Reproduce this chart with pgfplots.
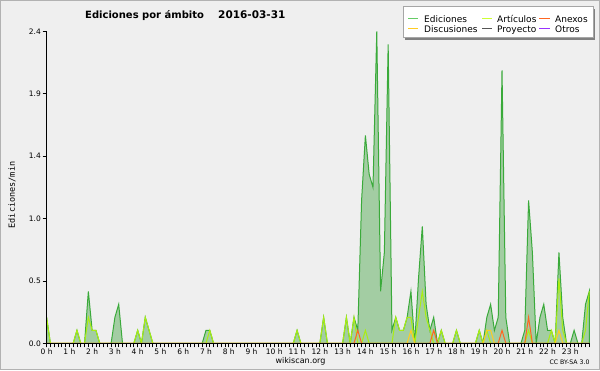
\documentclass[border=0pt]{standalone}
\usepackage{fontspec}
\setmainfont{DejaVu Sans}
\setmonofont{DejaVu Sans Mono}
\usepackage{pgfplots}
\usepackage{pgfplotstable}
\pgfplotsset{compat=1.18}
\definecolor{bgc}{HTML}{EFEFEF}
\definecolor{plotbg}{HTML}{EEF0F2}
\definecolor{edline}{HTML}{3AAA3A}
\definecolor{edfill}{HTML}{96C896}
\definecolor{edleg}{HTML}{66CC66}
\definecolor{art}{HTML}{AAEE11}
\definecolor{artleg}{HTML}{CCFF33}
\definecolor{anx}{HTML}{FF6622}
\definecolor{dis}{HTML}{FFCC22}
\definecolor{proy}{HTML}{555555}
\definecolor{otr}{HTML}{9933FF}
\definecolor{gridc}{HTML}{CCCCCC}
\pgfplotsset{
 layers/mylayers/.define layer set={axis background,axis grid,pre main,main,axis ticks,axis lines,axis tick labels,axis descriptions,axis foreground}{
 grid style={/pgfplots/on layer=axis grid},
 tick style={/pgfplots/on layer=axis ticks},
 axis line style={/pgfplots/on layer=axis lines},
 label style={/pgfplots/on layer=axis descriptions},
 legend style={/pgfplots/on layer=axis descriptions},
 title style={/pgfplots/on layer=axis descriptions},
 colorbar style={/pgfplots/on layer=axis descriptions},
 ticklabel style={/pgfplots/on layer=axis tick labels},
 axis background@ style={/pgfplots/on layer=axis background},
 3d box foreground style={/pgfplots/on layer=axis foreground},
 },
}
\pgfplotstableread{
k E A N D
0 0.2 0.2 0 0
1 0 0 0 0
2 0 0 0 0
3 0 0 0 0
4 0 0 0 0
5 0 0 0 0
6 0 0 0 0
7 0 0 0 0
8 0.1 0.1 0 0
9 0 0 0 0
10 0 0 0 0
11 0.4 0.2 0 0
12 0.1 0.1 0 0
13 0.1 0.1 0 0
14 0 0 0 0
15 0 0 0 0
16 0 0 0 0
17 0 0 0 0
18 0.2 0 0 0
19 0.3 0 0 0
20 0 0 0 0
21 0 0 0 0
22 0 0 0 0
23 0 0 0 0
24 0.1 0.1 0 0
25 0 0 0 0
26 0.2 0.2 0 0
27 0.1 0.1 0 0
28 0 0 0 0
29 0 0 0 0
30 0 0 0 0
31 0 0 0 0
32 0 0 0 0
33 0 0 0 0
34 0 0 0 0
35 0 0 0 0
36 0 0 0 0
37 0 0 0 0
38 0 0 0 0
39 0 0 0 0
40 0 0 0 0
41 0 0 0 0
42 0.1 0 0 0
43 0.1 0.1 0 0
44 0 0 0 0
45 0 0 0 0
46 0 0 0 0
47 0 0 0 0
48 0 0 0 0
49 0 0 0 0
50 0 0 0 0
51 0 0 0 0
52 0 0 0 0
53 0 0 0 0
54 0 0 0 0
55 0 0 0 0
56 0 0 0 0
57 0 0 0 0
58 0 0 0 0
59 0 0 0 0
60 0 0 0 0
61 0 0 0 0
62 0 0 0 0
63 0 0 0 0
64 0 0 0 0
65 0 0 0 0
66 0.1 0.1 0 0
67 0 0 0 0
68 0 0 0 0
69 0 0 0 0
70 0 0 0 0
71 0 0 0 0
72 0 0 0 0
73 0.2 0.2 0 0
74 0 0 0 0
75 0 0 0 0
76 0 0 0 0
77 0 0 0 0
78 0 0 0 0
79 0.2 0.2 0 0
80 0 0 0 0
81 0.2 0.2 0 0
82 0.1 0 0.1 0
83 1.1 0 0 0
84 1.6 0.1 0 0
85 1.3 0 0 0
86 1.2 0 0 0
87 2.4 0 0 0
88 0.4 0 0 0
89 0.7 0 0 0
90 2.3 0 0 0
91 0.1 0 0 0
92 0.2 0.2 0 0
93 0.1 0.1 0 0
94 0.1 0.1 0 0
95 0.2 0.2 0 0
96 0.4 0.2 0 0.1
97 0 0 0 0
98 0.5 0.2 0 0
99 0.9 0.4 0 0
100 0.3 0.2 0 0
101 0.1 0.1 0 0
102 0.2 0 0.1 0
103 0 0 0 0
104 0.1 0.1 0 0
105 0 0 0 0
106 0 0 0 0
107 0 0 0 0
108 0.1 0.1 0 0
109 0 0 0 0
110 0 0 0 0
111 0 0 0 0
112 0 0 0 0
113 0 0 0 0
114 0.1 0.1 0 0
115 0 0 0 0
116 0.2 0.1 0 0.1
117 0.3 0 0 0.1
118 0.1 0 0 0
119 0.2 0 0 0
120 2.1 0 0.1 0
121 0.2 0 0 0
122 0 0 0 0
123 0 0 0 0
124 0 0 0 0
125 0 0 0 0
126 0.1 0 0 0
127 1.1 0.1 0.2 0
128 0.7 0 0 0
129 0 0 0 0
130 0.2 0 0 0
131 0.3 0 0 0
132 0.1 0 0 0
133 0.1 0.1 0 0
134 0 0 0 0
135 0.7 0.5 0 0.1
136 0.2 0.1 0 0
137 0 0 0 0
138 0 0 0 0
139 0.1 0 0 0
140 0 0 0 0
141 0 0 0 0
142 0.3 0.1 0 0
143 0.4 0.4 0 0
}\datatable
\begin{document}
\begin{tikzpicture}[x=1pt,y=1pt]
\fill[bgc] (0,0) rectangle (600,370);
\draw[gray!60, line width=1pt] (0.5,0.5) rectangle (599.5,369.5);
\begin{axis}[
 set layers=mylayers,
 at={(46.6pt,26.7pt)}, anchor=south west,
 scale only axis, width=542.7pt, height=312pt,
 xmin=0, xmax=143, ymin=0, ymax=2.4,
 clip=false,
 axis x line=bottom, axis y line=left,
 axis line style={black, line width=0.9pt, -},
 axis background/.style={fill=plotbg},
 xtick={0,6,...,138},
 xticklabels={0 h,1 h,2 h,3 h,4 h,5 h,6 h,7 h,8 h,9 h,10 h,11 h,12 h,13 h,14 h,15 h,16 h,17 h,18 h,19 h,20 h,21 h,22 h,23 h},
 minor xtick={0,1,...,143},
 ytick={0,0.48,0.96,1.44,1.92,2.4},
 yticklabels={0.0,0.5,1.0,1.4,1.9,2.4},
 tick align=outside,
 major tick length=4pt, minor tick length=4pt,
 tick style={black, line width=0.8pt},
 every minor tick/.style={black, line width=0.8pt},
 ymajorgrids, grid style={gridc, line width=0.9pt},
 ticklabel style={font=\fontsize{7.5}{8}\selectfont},
 xticklabel style={inner sep=1pt},
 yticklabel style={inner sep=1.5pt},
]
\addplot[draw=edline, line width=1pt, fill=edfill, fill opacity=0.85] table[x=k, y=E] {\datatable} \closedcycle;
\addplot[draw=art, line width=1pt] table[x=k, y=A] {\datatable};
\addplot[draw=dis, line width=1pt] table[x=k, y=D] {\datatable};
\addplot[draw=anx, line width=1pt] table[x=k, y=N] {\datatable};
\end{axis}
% title and texts
\node[anchor=base west, font=\bfseries\fontsize{10}{12}\selectfont, inner sep=0] at (85,351) {Ediciones por ámbito};
\node[anchor=base west, font=\bfseries\fontsize{10.5}{12}\selectfont, inner sep=0] at (218,351) {2016-03-31};
\node[rotate=90, font=\ttfamily\fontsize{8.5}{10}\selectfont, inner sep=0] at (12,175) {Ediciones/min};
\node[font=\fontsize{8}{9}\selectfont, inner sep=0] at (300.5,9) {wikiscan.org};
\node[font=\fontsize{6.2}{7}\selectfont, inner sep=0] at (569.5,8) {CC BY-SA 3.0};
% legend
\fill[black!50] (405.3,330.3) rectangle (595.3,361.3);
\filldraw[fill=white, draw=gray!70, line width=0.8pt] (403.3,332.3) rectangle (593.3,363.3);
\begin{scope}[line width=1pt]
\draw[edleg] (408,351) -- (418,351);
\draw[artleg] (482,351) -- (492,351);
\draw[anx] (539,351) -- (550,351);
\draw[dis] (408,341) -- (418,341);
\draw[proy] (482,341) -- (492,341);
\draw[otr] (539,341) -- (550,341);
\end{scope}
\begin{scope}[every node/.style={anchor=base west, inner sep=0, font=\fontsize{9}{10}\selectfont}]
\node at (424,347) {Ediciones};
\node at (497,347) {Artículos};
\node at (555,347) {Anexos};
\node at (424,337) {Discusiones};
\node at (497,337) {Proyecto};
\node at (555,337) {Otros};
\end{scope}
\pgfresetboundingbox
\useasboundingbox (0,0) rectangle (600,370);
\end{tikzpicture}
\end{document}
